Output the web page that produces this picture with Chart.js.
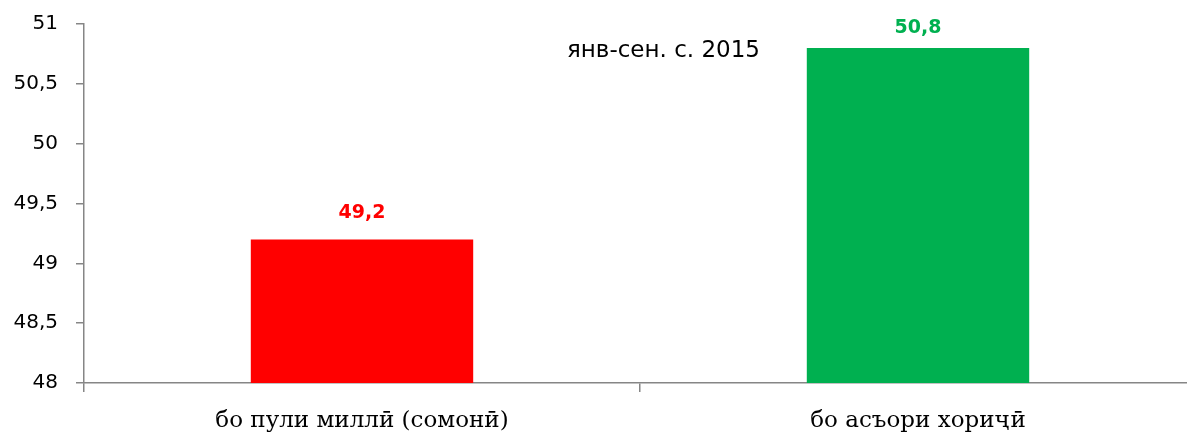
<!DOCTYPE html>
<html>
<head>
<meta charset="utf-8">
<script src="https://cdn.jsdelivr.net/npm/chart.js@4/dist/chart.umd.min.js"></script>
<style>
html,body{margin:0;padding:0;overflow:hidden;background:#fff;}
#wrap{width:1196px;height:434px;position:relative;}
</style>
</head>
<body>
<div id="wrap"><canvas id="c"></canvas></div>
<script>
const categories = ["бо пули миллӣ (сомонӣ)", "бо асъори хориҷӣ"];
const values = [49.2, 50.8];
const barColors = ["#FF0000", "#00B050"];
const periodLabel = "янв-сен. с. 2015";
const yMin = 48, yMax = 51, yStep = 0.5;

const fmt = v => String(v).replace('.', ',');

const valueLabels = {
  id: 'valueLabels',
  afterDatasetsDraw(chart) {
    const ctx = chart.ctx;
    const a = chart.chartArea;
    const meta = chart.getDatasetMeta(0);
    ctx.save();
    ctx.font = 'bold 19px "DejaVu Sans", sans-serif';
    ctx.textAlign = 'center';
    ctx.textBaseline = 'middle';
    meta.data.forEach((bar, i) => {
      ctx.fillStyle = barColors[i];
      ctx.fillText(fmt(values[i]), bar.x, Math.max(bar.y - 26, a.top + 4));
    });
    ctx.restore();
  }
};

const periodText = {
  id: 'periodText',
  afterDraw(chart) {
    const ctx = chart.ctx;
    const a = chart.chartArea;
    ctx.save();
    ctx.font = '23px "DejaVu Sans", sans-serif';
    ctx.fillStyle = '#000';
    ctx.textAlign = 'left';
    ctx.textBaseline = 'middle';
    ctx.fillText(periodLabel, 567, a.top + 27);
    ctx.restore();
  }
};

new Chart(document.getElementById('c'), {
  type: 'bar',
  data: {
    labels: categories,
    datasets: [{
      data: values,
      backgroundColor: barColors,
      borderWidth: 0,
      categoryPercentage: 0.8,
      barPercentage: 0.5
    }]
  },
  options: {
    responsive: true,
    maintainAspectRatio: false,
    animation: false,
    layout: { padding: { top: 24, right: 0, left: 0, bottom: 0 } },
    plugins: { legend: { display: false }, tooltip: { enabled: false } },
    scales: {
      x: {
        offset: true,
        grid: { display: true, offset: true, drawOnChartArea: false, drawTicks: true, tickLength: 9, color: '#868686', lineWidth: 1.5 },
        border: { display: true, color: '#868686', width: 1.5 },
        ticks: { color: '#000', font: { family: '"DejaVu Serif", serif', size: 23 }, padding: 15, maxRotation: 0 },
        afterFit(s) { s.height = 51; }
      },
      y: {
        min: yMin, max: yMax,
        grid: { display: true, drawOnChartArea: false, drawTicks: true, tickLength: 8, color: '#868686', lineWidth: 1.5 },
        border: { display: true, color: '#868686', width: 1.5 },
        ticks: { stepSize: yStep, color: '#000', font: { family: '"DejaVu Sans", sans-serif', size: 20 }, padding: 18, callback: v => fmt(v) },
        afterFit(s) { s.width = 84; s.paddingTop = 0; s.paddingBottom = 0; }
      }
    }
  },
  plugins: [valueLabels, periodText]
});
</script>
</body>
</html>
